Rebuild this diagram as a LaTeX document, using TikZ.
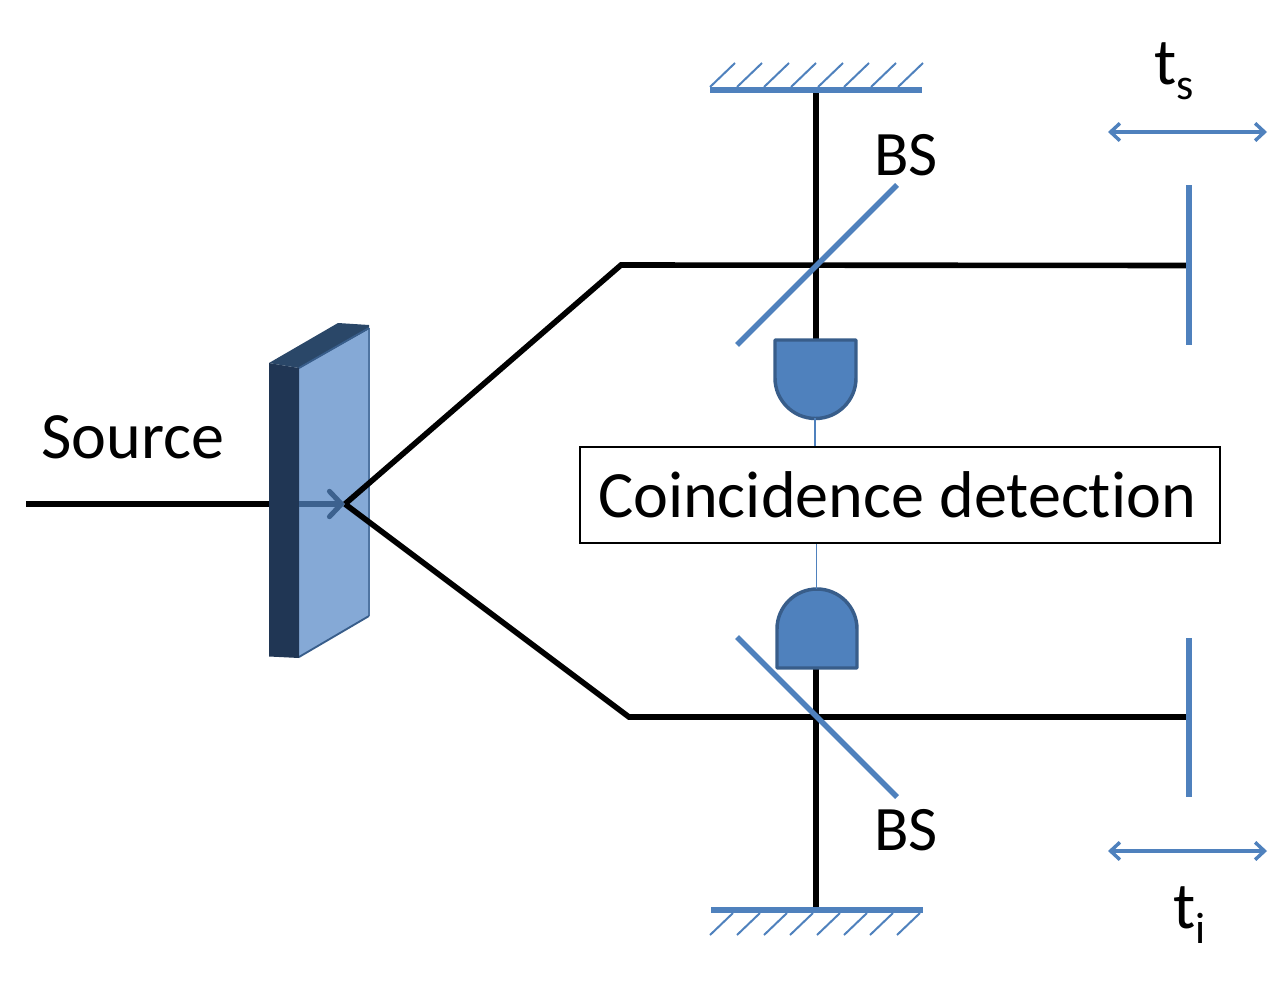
\documentclass[tikz,border=0pt]{standalone}
\usepackage{fontspec}
\setmainfont[Ligatures=NoCommon]{Carlito}
\usetikzlibrary{arrows.meta}
\definecolor{bsblue}{HTML}{4F81BD}
\definecolor{bsedge}{HTML}{385D8A}
\definecolor{platefront}{HTML}{85A9D6}
\definecolor{plateside}{HTML}{203654}
\definecolor{platetop}{HTML}{2A4768}
\tikzset{
  beam/.style={draw=black,line width=4.2pt,line join=miter},
  optic/.style={draw=bsblue,line width=4.2pt},
  bar/.style={draw=bsblue,line width=5.2pt},
  hatch/.style={draw=bsblue,line width=1.5pt},
  wire/.style={draw=bsblue,line width=1.1pt},
  detector/.style={fill=bsblue,draw=bsedge,line width=2.6pt,line join=round},
  travel/.style={draw=bsblue,line width=2.6pt,{Straight Barb[length=7pt,width=13pt,line width=2.6pt]}-{Straight Barb[length=7pt,width=13pt,line width=2.6pt]}},
  label/.style={inner sep=0pt,font=\fontsize{49.6}{54}\selectfont,text=black},
  smalllabel/.style={inner sep=0pt,font=\fontsize{47.5}{52}\selectfont,text=black}
}
\newcommand{\subtxt}[1]{\raisebox{-11.5pt}{\fontsize{33}{36}\selectfont #1}}
\begin{document}
\begin{tikzpicture}[x=0.75pt,y=-0.75pt]
\useasboundingbox (0,0) rectangle (1286,985);
% named points
\coordinate (in) at (26,504);
\coordinate (crystal) at (345,504);
\coordinate (platein) at (299,504);
\coordinate (ku) at (621,265);
\coordinate (kl) at (629,717);
\coordinate (mu) at (816,90);
\coordinate (ml) at (816,910);
\coordinate (du) at (816,339);
\coordinate (dl) at (816,668);
\coordinate (eu) at (1187,265.5);
\coordinate (el) at (1187,717);
% input beam
\draw[beam] (in) -- (271,504);
% crystal plate
\fill[platefront] (299,368) -- (369,328) -- (369,616) -- (299,657) -- cycle;
\draw[bsedge!70!platefront,line width=0.8pt] (369,328) -- (369,616);
\draw[bsedge,line width=1.4pt] (369,616) -- (299,657);
\fill[plateside] (269,363) -- (299,368) -- (299,658) -- (269,656.5) -- cycle;
\fill[platetop] (269,363) -- (338,323) -- (369,325) -- (369,329) -- (299,368) -- cycle;
\draw[bsedge,line width=1.4pt] (299,368) -- (369,328);
% arrow inside the plate
\draw[draw=bsedge!95!platefront,line width=3.8pt,-{Straight Barb[length=9pt,width=19pt,line width=3.8pt,round]}] (platein) -- (344,504);
% beams
\draw[beam] (mu) -- (du);
\draw[beam] (dl) -- (ml);
\draw[beam] (crystal) -- (ku) -- (eu);
\draw[beam] (crystal) -- (kl) -- (el);
% beam splitters
\draw[optic] (737,345) -- (897,185);
\draw[optic] (737,637) -- (897,797);
% end mirrors
\draw[optic] (1189,185) -- (1189,345);
\draw[optic] (1189,638) -- (1189,797);
% fixed mirrors
\draw[bar] (710,90) -- (922,90);
\foreach \x in {710,737,764,791,818,844,871,898}
  \draw[hatch] (\x,87) -- (\x+25,63);
\draw[bar] (711,910) -- (923,910);
\foreach \x in {710,737,764,790,817,844,870,897}
  \draw[hatch] (\x,935) -- (\x+23,913);
% coincidence box
\node[draw=black,line width=1pt,fill=white,minimum width=480pt,minimum height=72pt,inner sep=0pt,label,anchor=center] (coinc) at (900,495) {\hspace*{-4.5pt}Coincidence detection};
% detectors
\draw[detector] (775,340) -- (856,340) -- (856,378) arc[start angle=0,end angle=180,radius=40.5] -- cycle;
\draw[detector] (777,668) -- (857,668) -- (857,629) arc[start angle=0,end angle=-180,radius=40] -- cycle;
\coordinate (dut) at (815,418);
\coordinate (dlt) at (816.5,589);
\draw[wire] (dut) -- (dut |- coinc.north);
\draw[wire] (dlt) -- (dlt |- coinc.south);
% travel arrows
\coordinate (tua) at (1108,132);
\coordinate (tub) at (1267,132);
\coordinate (tla) at (1108,851);
\coordinate (tlb) at (1267,851);
\draw[travel] (tua) -- (tub);
\draw[travel] (tla) -- (tlb);
% labels
\node[label,anchor=center] (source) at (133,437) {Source};
\node[smalllabel,anchor=center] (bsu) at (906,155) {BS};
\node[smalllabel,anchor=center] (bsl) at (906,830) {BS};
\node[label,anchor=base west] (ts) at (1154,84) {t\subtxt{s}};
\node[label,anchor=base west] (ti) at (1173,928) {t\subtxt{i}};
\end{tikzpicture}
\end{document}
